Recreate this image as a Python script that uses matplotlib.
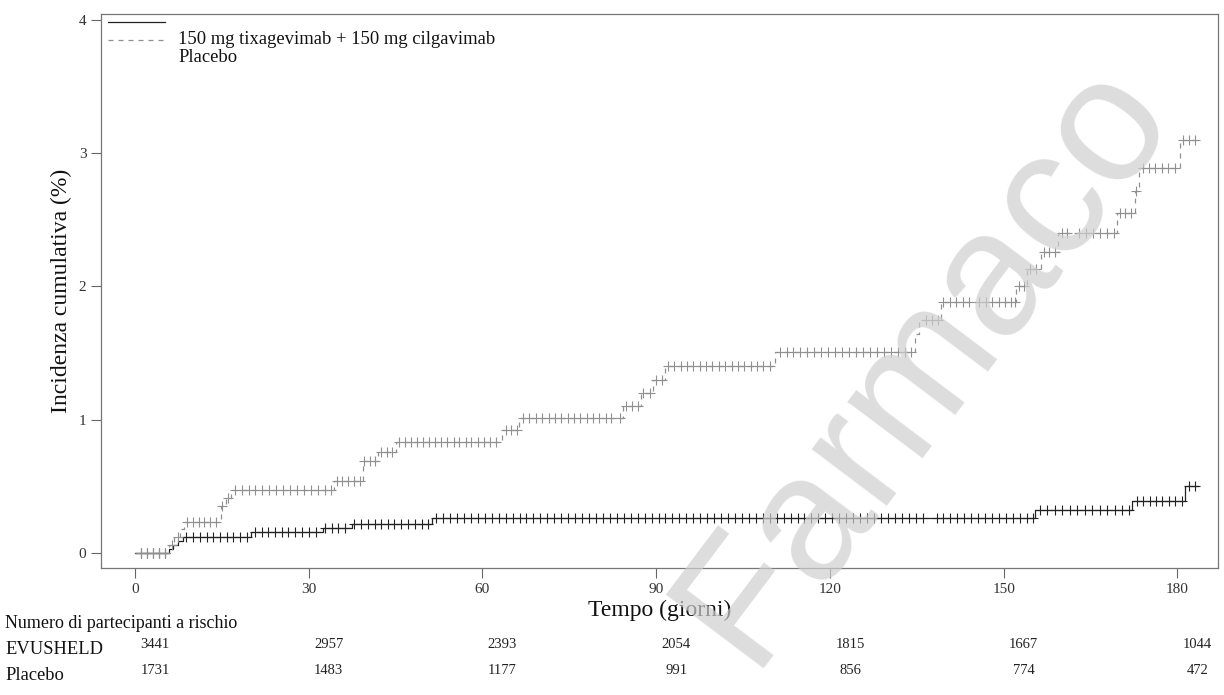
import numpy as np
import matplotlib
matplotlib.use('Agg')
import matplotlib.pyplot as plt
import matplotlib.transforms as mtransforms

plt.rcParams['font.family'] = ['Liberation Serif', 'DejaVu Serif']

# step functions: (day, cumulative incidence %)
evu_t = [0, 5.8, 6.6, 7.4, 8.3, 20.0, 32.5, 37.5, 51.3, 155.4, 172.2, 181.3]
evu_v = [0, 0.03, 0.06, 0.09, 0.12, 0.16, 0.19, 0.22, 0.26, 0.32, 0.39, 0.50]

pbo_t = [0, 5.8, 6.8, 7.8, 8.5, 14.8, 15.7, 16.6, 34.4, 39.3, 42.0, 45.0, 63.4,
         66.3, 84.3, 87.3, 89.5, 91.5, 110.5, 134.7, 135.4, 139.1, 152.1, 154.0,
         156.4, 159.3, 169.6, 172.6, 173.4, 180.4]
pbo_v = [0, 0.06, 0.12, 0.18, 0.235, 0.35, 0.41, 0.47, 0.54, 0.69, 0.76, 0.835,
         0.92, 1.01, 1.10, 1.20, 1.30, 1.40, 1.51, 1.64, 1.75, 1.88, 2.00, 2.13,
         2.26, 2.40, 2.55, 2.72, 2.89, 3.10]
t_end = 183.5

# censored observations (days)
evu_cens = [1.0, 2.0, 3.1, 4.2, 5.2,
            8.8, 10.0, 11.2, 12.4, 13.5, 14.7, 15.9, 17.0, 18.2, 19.3,
            20.7, 21.9, 23.0, 24.2, 25.4, 26.5, 27.7, 28.8, 30.0, 31.2,
            32.8, 34.0, 35.1, 36.3,
            37.9, 39.0, 40.2, 41.4, 42.5, 43.7, 44.8, 46.0, 47.2, 48.3, 49.5, 50.6,
            52.0, 53.2, 54.4, 55.6, 56.8, 58.0, 59.2, 60.4, 61.6, 62.8, 64.0, 65.2,
            66.4, 67.6, 68.8, 70.0, 71.2, 72.4, 73.6, 74.8, 76.0, 77.2, 78.4, 79.6,
            80.8, 82.0, 83.2, 84.4, 85.6, 86.8, 88.0, 89.2, 90.4, 91.6, 92.8, 94.0,
            95.2, 96.4, 97.6, 98.8, 100.0, 101.2, 102.4, 103.6, 104.8, 106.0, 107.2,
            108.4, 109.6, 110.8, 112.0, 113.2, 114.4, 115.6, 116.8, 118.0, 119.2,
            120.4, 121.6, 122.8, 124.0, 125.2, 126.4, 127.6, 128.8, 130.0, 131.2,
            132.4, 133.6, 134.8, 136.0, 138.4, 139.6, 140.8, 142.0, 143.2, 144.4,
            145.6, 146.8, 148.0, 149.2, 150.4, 151.6, 152.8, 154.0, 155.0,
            156.2, 157.5, 158.8, 160.1, 161.4, 162.7, 164.0, 165.3, 166.6, 167.9,
            169.2, 170.5, 171.7,
            173.0, 174.1, 175.2, 176.3, 177.4, 178.5, 179.6, 180.7,
            182.0, 183.0]

pbo_cens = [1.0, 2.0, 3.1, 4.2, 5.2, 6.4, 7.4,
            9.0, 10.0, 11.0, 12.0, 13.0, 14.0,
            15.1, 16.1,
            17.2, 18.4, 19.6, 20.8, 22.0, 23.2, 24.4, 25.6, 26.8, 28.0, 29.2, 30.4,
            31.6, 32.8, 33.8,
            34.8, 35.8, 36.8, 37.8, 38.8,
            39.6, 40.5, 41.4,
            42.5, 43.5, 44.4,
            45.5, 46.6, 47.6, 48.7, 49.7, 50.8, 51.8, 52.9, 53.9, 55.0, 56.0, 57.1,
            58.1, 59.2, 60.2, 61.3, 62.3,
            64.0, 65.0, 66.0,
            67.0, 68.1, 69.2, 70.3, 71.4, 72.5, 73.6, 74.7, 75.8, 76.9, 78.0, 79.1,
            80.2, 81.3, 82.2, 83.8,
            84.8, 85.8, 86.8,
            87.8, 88.9,
            89.9, 91.0,
            92.0, 93.1, 94.2, 95.3, 96.4, 97.5, 98.6, 99.7, 100.8, 101.9, 103.0,
            104.1, 105.2, 106.3, 107.4, 108.5, 109.6,
            111.3, 112.5, 113.7, 114.9, 116.1, 117.3, 118.5, 119.7, 120.9, 122.1,
            123.3, 124.5, 125.7, 126.9, 128.1, 129.3, 130.5, 131.7, 132.9, 134.0,
            136.5, 137.6, 138.6,
            139.6, 140.7, 141.8, 142.9, 144.0, 145.8, 146.9, 148.0, 149.1, 150.2,
            151.3, 152.0,
            152.6, 153.5,
            154.5, 155.6,
            156.9, 157.9, 158.9,
            160.0, 161.0, 163.0, 164.2, 165.4, 166.6, 167.8, 169.0,
            170.0, 171.0, 172.0,
            172.9,
            174.0, 175.1, 176.2, 177.3, 178.4, 179.5,
            181.0, 182.0, 183.0]

risk_days = [0, 30, 60, 90, 120, 150, 180]
risk_evu = [3441, 2957, 2393, 2054, 1815, 1667, 1044]
risk_pbo = [1731, 1483, 1177, 991, 856, 774, 472]

legend_labels = ['150 mg tixagevimab + 150 mg cilgavimab', 'Placebo']


def step_value(times, values, at):
    idx = np.searchsorted(np.asarray(times), np.asarray(at), side='right') - 1
    return np.asarray(values)[idx]


W, H = 1224, 695
fig = plt.figure(figsize=(W / 100, H / 100), dpi=100)
L, R, T, B = 101, 1218, 14, 568
ax = fig.add_axes([L / W, 1 - B / H, (R - L) / W, (B - T) / H])

evu_col = '#222222'
pbo_col = '#909090'

ax.step(evu_t + [t_end], evu_v + [evu_v[-1]], where='post', color=evu_col, lw=0.9)
ax.step(pbo_t + [t_end], pbo_v + [pbo_v[-1]], where='post', color=pbo_col, lw=0.9,
        linestyle=(0, (4, 4)))
ax.plot(evu_cens, step_value(evu_t, evu_v, evu_cens), ls='none', marker='+',
        ms=7, mew=0.8, color=evu_col)
ax.plot(pbo_cens, step_value(pbo_t, pbo_v, pbo_cens), ls='none', marker='+',
        ms=7, mew=0.8, color=pbo_col)

ax.set_xlim(-5.87, 187.0)
ax.set_ylim(-0.113, 4.045)
ax.set_xticks(risk_days)
ax.set_yticks([0, 1, 2, 3, 4])
ax.tick_params(direction='out', length=7, width=0.8, color='#666666',
               labelcolor='#333333', labelsize=11)
for s in ax.spines.values():
    s.set_color('#777777')
    s.set_linewidth(0.9)

ax.set_xlabel('Tempo (giorni)', fontsize=17, labelpad=3, color='#111111')
ax.set_ylabel('Incidenza cumulativa (%)', fontsize=17, labelpad=5, color='#111111')

# legend drawn SAS-style: line samples offset from the labels
def ax_xy(px, py):
    return (px - L) / (R - L), (B - py) / (B - T)

x0, y0 = ax_xy(108, 22)
x1, _ = ax_xy(165, 22)
_, y1 = ax_xy(108, 40)
ax.plot([x0, x1], [y0, y0], transform=ax.transAxes, color=evu_col, lw=0.9)
ax.plot([x0, x1], [y1, y1], transform=ax.transAxes, color=pbo_col, lw=0.9,
        linestyle=(0, (4, 4)))
for lab, py in zip(legend_labels, [40, 58]):
    tx, ty = ax_xy(178, py)
    ax.text(tx, ty, lab, transform=ax.transAxes, fontsize=13.4, va='center',
            ha='left', color='#111111')

# number at risk table
fig.text(5 / W, 1 - 623 / H, 'Numero di partecipanti a rischio', fontsize=13,
         va='center', ha='left', color='#111111')
fig.text(5 / W, 1 - 649 / H, 'EVUSHELD', fontsize=13.3, va='center', ha='left',
         color='#111111')
fig.text(5 / W, 1 - 676 / H, 'Placebo', fontsize=13.3, va='center', ha='left',
         color='#111111')
trans = mtransforms.blended_transform_factory(ax.transData, fig.transFigure)
trans = trans + mtransforms.ScaledTranslation(20 / 100, 0, fig.dpi_scale_trans)
for d, a, b in zip(risk_days, risk_evu, risk_pbo):
    fig.text(d, 1 - 644 / H, str(a), transform=trans, fontsize=10.5, ha='center',
             va='center', color='#222222')
    fig.text(d, 1 - 671 / H, str(b), transform=trans, fontsize=10.5, ha='center',
             va='center', color='#222222')

# watermark
fig.text(0.755, 0.48, 'Farmaco', rotation=53, fontsize=128, color='#cfcfcf',
         alpha=0.7, ha='center', va='center', rotation_mode='anchor',
         family=['Liberation Sans Narrow', 'Liberation Sans', 'DejaVu Sans'],
         zorder=10)

fig.savefig('out.png', dpi=100)
